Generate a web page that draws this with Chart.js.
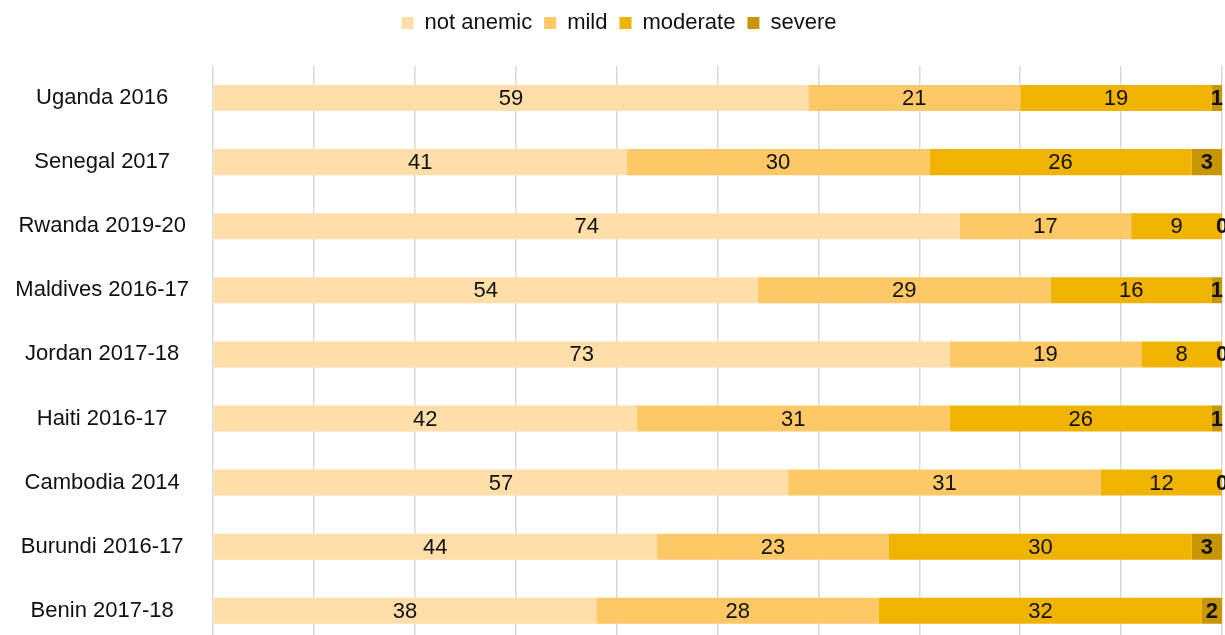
<!DOCTYPE html>
<html>
<head>
<meta charset="utf-8">
<title>Anemia prevalence by survey</title>
<script src="https://cdn.jsdelivr.net/npm/chart.js@4/dist/chart.umd.min.js"></script>
<style>
  html, body { margin: 0; padding: 0; background: #fff; overflow: hidden; }
  #wrap { position: relative; width: 1225px; height: 672px; }
</style>
</head>
<body>
<div id="wrap"><canvas id="chart"></canvas></div>
<script>
// Survey categories (top to bottom)
const surveys = [
  "Uganda 2016", "Senegal 2017", "Rwanda 2019-20", "Maldives 2016-17",
  "Jordan 2017-18", "Haiti 2016-17", "Cambodia 2014", "Burundi 2016-17", "Benin 2017-18"
];

// Percent of respondents in each anemia category
const notAnemic = [59, 41, 74, 54, 73, 42, 57, 44, 38];
const mild      = [21, 30, 17, 29, 19, 31, 31, 23, 28];
const moderate  = [19, 26,  9, 16,  8, 26, 12, 30, 32];
const severe    = [ 1,  3,  0,  1,  0,  1,  0,  3,  2];

const seriesNames = ["not anemic", "mild", "moderate", "severe"];
const seriesColors = ["#FFDEAA", "#FFC866", "#F0B400", "#C89600"];

const FONT = '"Liberation Sans", Arial, sans-serif';
const TEXT = "#111111";

// Writes each segment's value at the centre of its bar piece
const segmentLabels = {
  id: "segmentLabels",
  afterDatasetsDraw(chart) {
    const ctx = chart.ctx;
    ctx.save();
    ctx.textAlign = "center";
    ctx.textBaseline = "middle";
    ctx.fillStyle = TEXT;
    chart.data.datasets.forEach((ds, i) => {
      const meta = chart.getDatasetMeta(i);
      ctx.font = (i === 3 ? "bold " : "") + "22px " + FONT;
      meta.data.forEach((bar, j) => {
        const cx = (bar.x + bar.base) / 2;
        ctx.fillText(String(ds.data[j]), cx, bar.y + 1);
      });
    });
    ctx.restore();
  }
};

// Nudges the centred legend row a little to the right
const legendOffset = {
  id: "legendOffset",
  afterLayout(chart) {
    if (chart.legend) chart.legend.left = 16;
  }
};

const values = [notAnemic, mild, moderate, severe];

new Chart(document.getElementById("chart"), {
  type: "bar",
  data: {
    labels: surveys,
    datasets: seriesNames.map((name, i) => ({
      label: name,
      data: values[i],
      backgroundColor: seriesColors[i],
      borderWidth: 0,
      categoryPercentage: 1,
      barPercentage: 0.406
    }))
  },
  options: {
    indexAxis: "y",
    responsive: true,
    maintainAspectRatio: false,
    animation: false,
    layout: { padding: { left: 0, right: 3, top: 0, bottom: 0 } },
    plugins: {
      legend: {
        position: "top",
        align: "center",
        labels: {
          boxWidth: 12,
          boxHeight: 12,
          padding: 12,
          color: TEXT,
          font: { family: FONT, size: 22 }
        }
      },
      tooltip: { enabled: false }
    },
    scales: {
      x: {
        position: "top",
        stacked: true,
        min: 0,
        max: 100,
        ticks: { display: false, stepSize: 10 },
        grid: { color: "#D9D9D9", lineWidth: 1.5, drawTicks: false },
        border: { display: false },
        afterFit(scale) { scale.height = 22; }
      },
      y: {
        stacked: true,
        grid: { display: false },
        border: { display: false },
        ticks: {
          color: TEXT,
          crossAlign: "center",
          padding: 16,
          font: { family: FONT, size: 22 }
        },
        afterFit(scale) { scale.width = 213; }
      }
    }
  },
  plugins: [segmentLabels, legendOffset]
});
</script>
</body>
</html>
